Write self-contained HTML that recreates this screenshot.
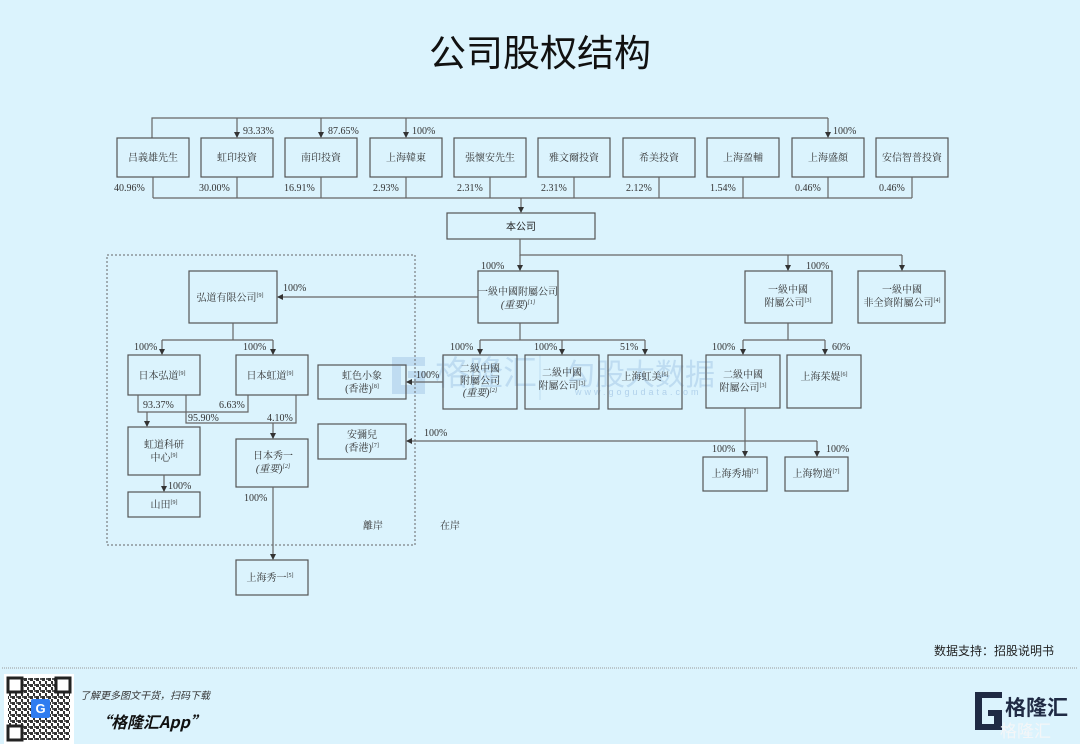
<!DOCTYPE html>
<html><head><meta charset="utf-8"><style>
html,body{margin:0;padding:0;background:#dbf3fd;}
svg{display:block}
.t{font-family:"Liberation Serif","Noto Serif CJK SC",serif;font-size:10px;fill:#333;text-anchor:middle}
.p{font-family:"Liberation Serif","Noto Serif CJK SC",serif;font-size:10px;fill:#333}
.b{fill:none;stroke:#555;stroke-width:1.2}
.l{fill:none;stroke:#666;stroke-width:1.2}
.s{font-size:6px}
</style></head><body>
<svg width="1080" height="744" viewBox="0 0 1080 744" xmlns="http://www.w3.org/2000/svg">
<defs>
<marker id="a" markerWidth="6" markerHeight="6" refX="5" refY="3" orient="auto" markerUnits="userSpaceOnUse"><path d="M0,0 L6,3 L0,6z" fill="#333"/></marker>
<pattern id="qr" width="6" height="6" patternUnits="userSpaceOnUse"><rect x="0" y="0" width="3" height="3" fill="#333"/><rect x="3" y="3" width="2" height="3" fill="#333"/><rect x="4" y="0" width="2" height="2" fill="#555"/></pattern>
</defs>
<rect width="1080" height="744" fill="#dbf3fd"/>
<text x="540" y="66" text-anchor="middle" font-family="'Noto Sans CJK SC',sans-serif" font-size="37" font-weight="400" fill="#111">公司股权结构</text>

<!-- watermark -->
<path d="M392,357 H425 V366 H401 V385 H414 V378 H408 V371 H425 V394 H392 Z" fill="#7fa9d6" opacity="0.3"/>
<text x="435" y="385" font-family="'Noto Sans CJK SC',sans-serif" font-size="34" fill="#7fa9d6" opacity="0.3">格隆汇</text>
<line x1="540" y1="355" x2="540" y2="400" stroke="#7fa9d6" opacity="0.3"/>
<text x="565" y="385" font-family="'Noto Sans CJK SC',sans-serif" font-size="30" fill="#7fa9d6" opacity="0.3">勾股大数据</text>
<text x="575" y="395" font-family="'Liberation Sans',sans-serif" font-size="9" letter-spacing="3" fill="#7fa9d6" opacity="0.45">www.gogudata.com</text>

<!-- top row -->
<path class="l" d="M152,138 V118 H828"/>
<path class="l" d="M237,118 V137" marker-end="url(#a)"/>
<path class="l" d="M321,118 V137" marker-end="url(#a)"/>
<path class="l" d="M406,118 V137" marker-end="url(#a)"/>
<path class="l" d="M828,118 V137" marker-end="url(#a)"/>
<text class="p" x="243" y="134">93.33%</text>
<text class="p" x="328" y="134">87.65%</text>
<text class="p" x="412" y="134">100%</text>
<text class="p" x="833" y="134">100%</text>
<g>
<rect class="b" x="117" y="138" width="72" height="39"/><text class="t" x="153" y="161">吕義雄先生</text>
<rect class="b" x="201" y="138" width="72" height="39"/><text class="t" x="237" y="161">虹印投資</text>
<rect class="b" x="285" y="138" width="72" height="39"/><text class="t" x="321" y="161">南印投資</text>
<rect class="b" x="370" y="138" width="72" height="39"/><text class="t" x="406" y="161">上海韓東</text>
<rect class="b" x="454" y="138" width="72" height="39"/><text class="t" x="490" y="161">張懷安先生</text>
<rect class="b" x="538" y="138" width="72" height="39"/><text class="t" x="574" y="161">雅文爾投資</text>
<rect class="b" x="623" y="138" width="72" height="39"/><text class="t" x="659" y="161">希美投資</text>
<rect class="b" x="707" y="138" width="72" height="39"/><text class="t" x="743" y="161">上海盈輔</text>
<rect class="b" x="792" y="138" width="72" height="39"/><text class="t" x="828" y="161">上海盛顏</text>
<rect class="b" x="876" y="138" width="72" height="39"/><text class="t" x="912" y="161">安信智普投資</text>
</g>
<path class="l" d="M153,177V198M237,177V198M321,177V198M406,177V198M490,177V198M574,177V198M659,177V198M743,177V198M828,177V198M912,177V198M153,198H912"/>
<text class="p" x="114" y="191">40.96%</text>
<text class="p" x="199" y="191">30.00%</text>
<text class="p" x="284" y="191">16.91%</text>
<text class="p" x="373" y="191">2.93%</text>
<text class="p" x="457" y="191">2.31%</text>
<text class="p" x="541" y="191">2.31%</text>
<text class="p" x="626" y="191">2.12%</text>
<text class="p" x="710" y="191">1.54%</text>
<text class="p" x="795" y="191">0.46%</text>
<text class="p" x="879" y="191">0.46%</text>
<path class="l" d="M521,198V212" marker-end="url(#a)"/>
<rect class="b" x="447" y="213" width="148" height="26"/>
<text x="521" y="230" text-anchor="middle" font-family="'Noto Sans CJK SC',sans-serif" font-size="10" fill="#222">本公司</text>

<!-- level 1 -->
<path class="l" d="M520,239V255H902"/>
<path class="l" d="M520,255V270" marker-end="url(#a)"/>
<path class="l" d="M788,255V270" marker-end="url(#a)"/>
<path class="l" d="M902,255V270" marker-end="url(#a)"/>
<text class="p" x="481" y="269">100%</text>
<text class="p" x="806" y="269">100%</text>
<rect class="b" x="478" y="271" width="80" height="52"/>
<text class="t" x="518" y="295">一級中國附屬公司</text>
<text class="t" x="518" y="308" font-style="italic">(重要)<tspan class="s" dy="-4">[1]</tspan></text>
<rect class="b" x="745" y="271" width="87" height="52"/>
<text class="t" x="788" y="293">一級中國</text>
<text class="t" x="788" y="306">附屬公司<tspan class="s" dy="-4">[3]</tspan></text>
<rect class="b" x="858" y="271" width="87" height="52"/>
<text class="t" x="902" y="293">一級中國</text>
<text class="t" x="902" y="306">非全資附屬公司<tspan class="s" dy="-4">[4]</tspan></text>

<path class="l" d="M478,297H278" marker-end="url(#a)"/>
<text class="p" x="283" y="291">100%</text>

<path class="l" d="M520,323V340H645M480,340H520"/>
<path class="l" d="M480,340V354" marker-end="url(#a)"/>
<path class="l" d="M562,340V354" marker-end="url(#a)"/>
<path class="l" d="M645,340V354" marker-end="url(#a)"/>
<text class="p" x="450" y="350">100%</text>
<text class="p" x="534" y="350">100%</text>
<text class="p" x="620" y="350">51%</text>
<rect class="b" x="443" y="355" width="74" height="54"/>
<text class="t" x="480" y="372">二級中國</text>
<text class="t" x="480" y="384">附屬公司</text>
<text class="t" x="480" y="396" font-style="italic">(重要)<tspan class="s" dy="-4">[2]</tspan></text>
<rect class="b" x="525" y="355" width="74" height="54"/>
<text class="t" x="562" y="376">二級中國</text>
<text class="t" x="562" y="389">附屬公司<tspan class="s" dy="-4">[3]</tspan></text>
<rect class="b" x="608" y="355" width="74" height="54"/>
<text class="t" x="645" y="380">上海虹美<tspan class="s" dy="-4">[6]</tspan></text>

<path class="l" d="M443,382H407" marker-end="url(#a)"/>
<text class="p" x="416" y="378">100%</text>

<path class="l" d="M788,323V340H825M743,340H788"/>
<path class="l" d="M743,340V354" marker-end="url(#a)"/>
<path class="l" d="M825,340V354" marker-end="url(#a)"/>
<text class="p" x="712" y="350">100%</text>
<text class="p" x="832" y="350">60%</text>
<rect class="b" x="706" y="355" width="74" height="53"/>
<text class="t" x="743" y="378">二級中國</text>
<text class="t" x="743" y="391">附屬公司<tspan class="s" dy="-4">[3]</tspan></text>
<rect class="b" x="787" y="355" width="74" height="53"/>
<text class="t" x="824" y="380">上海茱媞<tspan class="s" dy="-4">[6]</tspan></text>

<path class="l" d="M745,408V456" marker-end="url(#a)"/>
<path class="l" d="M817,441H407" marker-end="url(#a)"/>
<path class="l" d="M817,441V456" marker-end="url(#a)"/>
<text class="p" x="424" y="436">100%</text>
<text class="p" x="712" y="452">100%</text>
<text class="p" x="826" y="452">100%</text>
<rect class="b" x="703" y="457" width="64" height="34"/>
<text class="t" x="735" y="477">上海秀埔<tspan class="s" dy="-4">[7]</tspan></text>
<rect class="b" x="785" y="457" width="63" height="34"/>
<text class="t" x="816" y="477">上海物道<tspan class="s" dy="-4">[7]</tspan></text>

<!-- offshore -->
<rect x="107" y="255" width="308" height="290" fill="none" stroke="#666" stroke-width="1" stroke-dasharray="2,2"/>
<rect class="b" x="189" y="271" width="88" height="52"/>
<text class="t" x="230" y="301">弘道有限公司<tspan class="s" dy="-4">[9]</tspan></text>
<path class="l" d="M233,323V340H273M162,340H233"/>
<path class="l" d="M162,340V354" marker-end="url(#a)"/>
<path class="l" d="M273,340V354" marker-end="url(#a)"/>
<text class="p" x="134" y="350">100%</text>
<text class="p" x="243" y="350">100%</text>
<rect class="b" x="128" y="355" width="72" height="40"/>
<text class="t" x="162" y="379">日本弘道<tspan class="s" dy="-4">[9]</tspan></text>
<rect class="b" x="236" y="355" width="72" height="40"/>
<text class="t" x="270" y="379">日本虹道<tspan class="s" dy="-4">[9]</tspan></text>
<path class="l" d="M138,395V412H248V395M186,395V423H296V395"/>
<path class="l" d="M147,412V426" marker-end="url(#a)"/>
<path class="l" d="M273,423V438" marker-end="url(#a)"/>
<text class="p" x="143" y="408">93.37%</text>
<text class="p" x="219" y="408">6.63%</text>
<text class="p" x="188" y="421">95.90%</text>
<text class="p" x="267" y="421">4.10%</text>
<rect class="b" x="128" y="427" width="72" height="48"/>
<text class="t" x="164" y="448">虹道科研</text>
<text class="t" x="164" y="461">中心<tspan class="s" dy="-4">[9]</tspan></text>
<path class="l" d="M164,475V491" marker-end="url(#a)"/>
<text class="p" x="168" y="489">100%</text>
<rect class="b" x="128" y="492" width="72" height="25"/>
<text class="t" x="164" y="508">山田<tspan class="s" dy="-4">[9]</tspan></text>
<rect class="b" x="236" y="439" width="72" height="48"/>
<text class="t" x="273" y="459">日本秀一</text>
<text class="t" x="273" y="472" font-style="italic">(重要)<tspan class="s" dy="-4">[2]</tspan></text>
<path class="l" d="M273,487V559" marker-end="url(#a)"/>
<text class="p" x="244" y="501">100%</text>
<rect class="b" x="318" y="365" width="88" height="34"/>
<text class="t" x="362" y="379">虹色小象</text>
<text class="t" x="362" y="392">(香港)<tspan class="s" dy="-4">[8]</tspan></text>
<rect class="b" x="318" y="424" width="88" height="35"/>
<text class="t" x="362" y="438">安彌兒</text>
<text class="t" x="362" y="451">(香港)<tspan class="s" dy="-4">[7]</tspan></text>
<text class="t" x="373" y="529">離岸</text>
<text class="t" x="450" y="529">在岸</text>
<rect class="b" x="236" y="560" width="72" height="35"/>
<text class="t" x="270" y="581">上海秀一<tspan class="s" dy="-4">[5]</tspan></text>

<!-- footer -->
<text x="1054" y="655" text-anchor="end" font-family="'Noto Sans CJK SC',sans-serif" font-size="12" fill="#222">数据支持：招股说明书</text>
<line x1="2" y1="668" x2="1078" y2="668" stroke="#999" stroke-width="1" stroke-dasharray="1,1"/>
<rect x="4" y="674" width="70" height="70" fill="#fff"/>
<rect x="8" y="678" width="62" height="62" fill="url(#qr)"/>
<rect x="8" y="678" width="14" height="14" fill="#fff" stroke="#222" stroke-width="3"/>
<rect x="56" y="678" width="14" height="14" fill="#fff" stroke="#222" stroke-width="3"/>
<rect x="8" y="726" width="14" height="14" fill="#fff" stroke="#222" stroke-width="3"/>
<rect x="31" y="699" width="19" height="19" rx="2" fill="#2f7cf0"/>
<text x="40.5" y="713" text-anchor="middle" font-family="'Liberation Sans',sans-serif" font-weight="bold" font-size="13" fill="#fff">G</text>
<text x="80" y="699" font-family="'Noto Sans CJK SC',sans-serif" font-size="10" font-style="italic" fill="#333">了解更多图文干货，扫码下载</text>
<text x="95" y="728" font-family="'Noto Sans CJK SC',sans-serif" font-size="16" font-weight="bold" font-style="italic" fill="#111">“格隆汇App”</text>
<path d="M975,692 H1002 V698 H982 V724 H994 V716 H988 V710 H1002 V730 H975 Z" fill="#1f2a44"/>
<text x="1005" y="715" font-family="'Noto Sans CJK SC',sans-serif" font-size="21" font-weight="bold" fill="#1f2a44">格隆汇</text>
<text x="1000" y="737" font-family="'Noto Sans CJK SC',sans-serif" font-size="17" fill="#f4f6f8">格隆汇</text>
</svg>
</body></html>
